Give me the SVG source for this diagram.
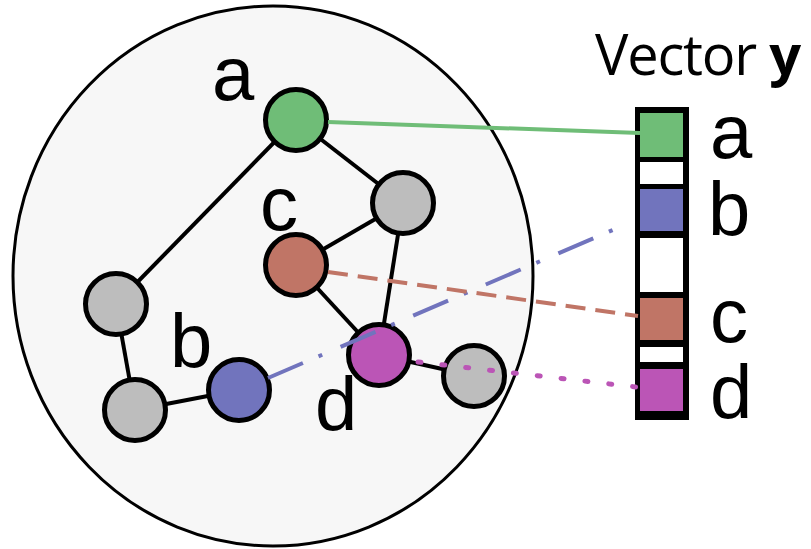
<svg xmlns="http://www.w3.org/2000/svg" width="811" height="549" viewBox="0 0 811 549">
  <style>
    .edge { stroke: #000; stroke-width: 4; fill: none; }
    .node { stroke: #000; stroke-width: 5; }
    .gray { fill: #bdbdbd; }
    .green { fill: #6fbd77; }
    .blue { fill: #7174bd; }
    .brown { fill: #c07566; }
    .magenta { fill: #bb55b6; }
    .lbl { font-family: "Liberation Sans", Arial, sans-serif; font-size: 76px; fill: #000; }
    .title { font-family: "Open Sans", "Liberation Sans", sans-serif; font-size: 56px; fill: #000; letter-spacing: -1.2px; }
    .cell { stroke: none; }
  </style>

  <rect width="811" height="549" fill="#fff"/>

  <!-- graph boundary -->
  <ellipse id="graph-region" cx="273" cy="276" rx="260" ry="270" fill="#f7f7f7" stroke="#000" stroke-width="3"/>

  <!-- graph edges -->
  <g id="edges" class="edge">
    <line x1="296" y1="120" x2="116" y2="304"/>
    <line x1="296" y1="120" x2="403" y2="203"/>
    <line x1="403" y1="203" x2="296" y2="265"/>
    <line x1="403" y1="203" x2="379" y2="355"/>
    <line x1="296" y1="265" x2="379" y2="355"/>
    <line x1="116" y1="304" x2="135" y2="410"/>
    <line x1="135" y1="410" x2="239" y2="390"/>
    <line x1="379" y1="355" x2="474" y2="376"/>
  </g>

  <!-- nodes -->
  <g id="node-a"><circle class="node green" cx="296" cy="120" r="30.5"/></g>
  <g id="node-top-right"><circle class="node gray" cx="403" cy="203" r="30.5"/></g>
  <g id="node-c"><circle class="node brown" cx="296" cy="265" r="30.5"/></g>
  <g id="node-d"><circle class="node magenta" cx="379" cy="355" r="30.5"/></g>
  <g id="node-right"><circle class="node gray" cx="474" cy="376" r="30.5"/></g>
  <g id="node-b"><circle class="node blue" cx="239" cy="390" r="30.5"/></g>
  <g id="node-left"><circle class="node gray" cx="116" cy="304" r="30.5"/></g>
  <g id="node-bottom-left"><circle class="node gray" cx="135" cy="410" r="30.5"/></g>

  <!-- node labels -->
  <g id="node-labels" class="lbl">
    <text x="212" y="100">a</text>
    <text x="260" y="230">c</text>
    <text x="170" y="367">b</text>
    <text x="315" y="430">d</text>
  </g>

  <!-- vector y -->
  <g id="vector-y">
    <text class="title" x="595" y="75">Vector <tspan font-weight="bold">y</tspan></text>
    <rect x="635" y="107" width="54" height="313" fill="#000"/>
    <rect class="cell green" x="640" y="113" width="43" height="44"/>
    <rect class="cell" x="640" y="162" width="43" height="22" fill="#fff"/>
    <rect class="cell blue" x="640" y="189" width="43" height="42"/>
    <rect class="cell" x="640" y="238" width="43" height="54" fill="#fff"/>
    <rect class="cell brown" x="640" y="298" width="43" height="42"/>
    <rect class="cell" x="640" y="347" width="43" height="15" fill="#fff"/>
    <rect class="cell magenta" x="640" y="369" width="43" height="42"/>
    <g class="lbl">
      <text x="710" y="158">a</text>
      <text x="708" y="235">b</text>
      <text x="710" y="342">c</text>
      <text x="710" y="418">d</text>
    </g>
  </g>

  <!-- node-to-entry connectors -->
  <g id="connectors" fill="none" stroke-width="4">
    <line x1="328" y1="122" x2="640" y2="133" stroke="#6fbd77"/>
    <line x1="268" y1="378" x2="622" y2="226" stroke="#7174bd" stroke-dasharray="38 17 4 20"/>
    <line x1="328" y1="272" x2="638" y2="316" stroke="#c07566" stroke-dasharray="20 10"/>
    <line x1="418" y1="362" x2="636" y2="387" stroke="#bb55b6" stroke-width="5" stroke-linecap="round" stroke-dasharray="3 21"/>
  </g>
</svg>
